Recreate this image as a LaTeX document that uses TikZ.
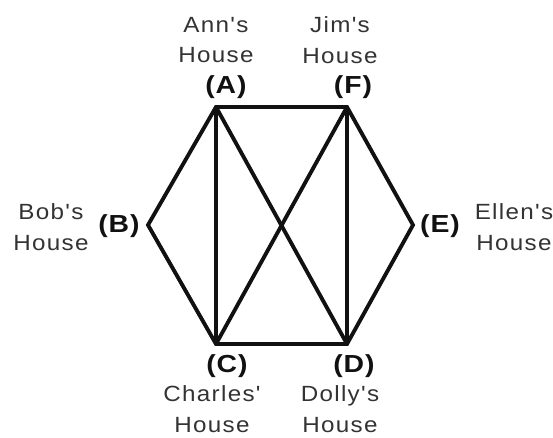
\documentclass[tikz,border=0pt]{standalone}
\usepackage{fontspec}
\setmainfont{Liberation Sans}
\newfontfamily\housefont{Liberation Sans}[FakeStretch=1.1, LetterSpace=6]
\newfontfamily\letterfont{Liberation Sans}[FakeStretch=1.15, LetterSpace=4]
\usetikzlibrary{positioning}
\definecolor{ink}{HTML}{111111}
\definecolor{houseink}{HTML}{333333}

\tikzset{
  house/.style={text=houseink, align=center, inner sep=0pt,
    font=\housefont\fontsize{16.5}{23}\selectfont},
  letter/.style={text=ink, inner sep=0pt,
    font=\letterfont\fontsize{18.5}{20}\selectfont\bfseries},
  road/.style={draw=ink, line width=2.9pt, line join=miter}
}

\begin{document}
\begin{tikzpicture}[x=0.75pt, y=-0.75pt]
  \useasboundingbox (0,0) rectangle (553,437);
  % houses (graph vertices)
  \coordinate (A) at (216,107);
  \coordinate (F) at (347,107);
  \coordinate (B) at (148,225);
  \coordinate (E) at (413,225);
  \coordinate (C) at (216,344);
  \coordinate (D) at (347,344);

  % roads
  \draw[road] (A) -- (F) -- (E) -- (D) -- (C) -- (B) -- cycle;
  \draw[road] (A) -- (C);
  \draw[road] (A) -- (D);
  \draw[road] (F) -- (C);
  \draw[road] (F) -- (D);

  % letters
  \node[letter] (la) at (226,87) {(A)};
  \node[letter] (lf) at (353,87) {(F)};
  \node[letter] (lb) at (119,226) {(B)};
  \node[letter] (le) at (440,226) {(E)};
  \node[letter] (lc) at (227,366) {(C)};
  \node[letter] (ld) at (354,366) {(D)};

  % names
  \node[house] (na) at (216,40) {Ann's\\House};
  \node[house] (nf) at (340,40) {Jim's\\House};
  \node[house] (nb) at (51,227) {Bob's\\House};
  \node[house] (ne) at (514,227) {Ellen's\\House};
  \node[house] (nc) at (212,409) {Charles'\\House};
  \node[house] (nd) at (340,409) {Dolly's\\House};
\end{tikzpicture}
\end{document}
